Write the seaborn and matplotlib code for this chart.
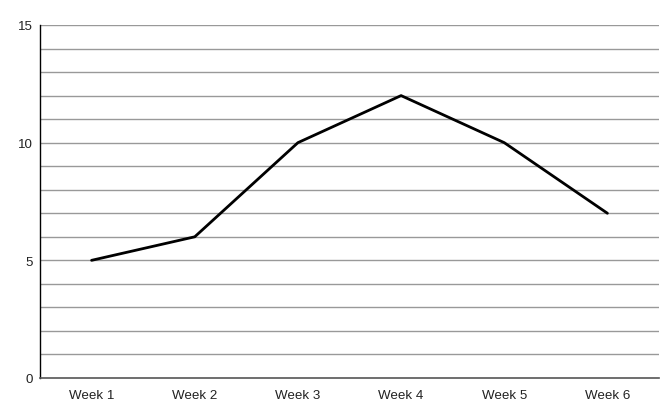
import matplotlib
matplotlib.use("Agg")
import matplotlib.pyplot as plt
import seaborn as sns
import pandas as pd

weeks = ["Week 1", "Week 2", "Week 3", "Week 4", "Week 5", "Week 6"]
values = [5, 6, 10, 12, 10, 7]
y_ticks = [0, 5, 10, 15]

sns.set_style("white")
plt.rcParams['font.family'] = ['Liberation Sans', 'DejaVu Sans']

df = pd.DataFrame({"week": weeks, "value": values})

fig = plt.figure(figsize=(6.72, 4.1), dpi=100)
ax = fig.add_axes([40 / 672, 31 / 410, 619 / 672, 353 / 410])

# minor gridlines every unit
for y in range(1, 16):
    ax.axhline(y, color="#999999", linewidth=1, zorder=0)

sns.lineplot(data=df, x="week", y="value", color="black", linewidth=2,
             sort=False, ax=ax, zorder=3)

ax.set_xlim(-0.5, 5.5)
ax.set_ylim(0, 15)
ax.set_yticks(y_ticks)
ax.set_xlabel("")
ax.set_ylabel("")
ax.tick_params(axis="both", length=0, labelsize=9.6, colors="#222222")
ax.tick_params(axis="x", pad=8)
ax.tick_params(axis="y", pad=5)

for s in ["top", "right"]:
    ax.spines[s].set_visible(False)
ax.spines["left"].set_color("black")
ax.spines["left"].set_linewidth(1)
ax.spines["bottom"].set_color("#555555")
ax.spines["bottom"].set_linewidth(1.2)

fig.savefig("out.png", dpi=100)
